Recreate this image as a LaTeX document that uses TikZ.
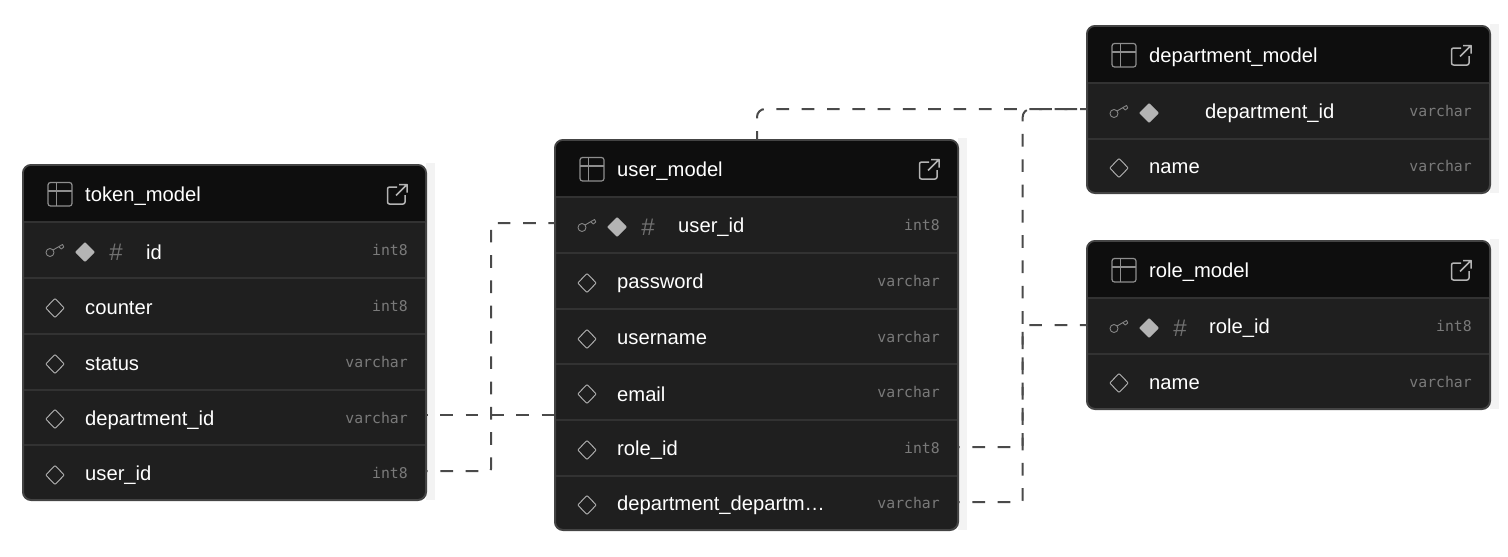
\documentclass[tikz,border=0pt]{standalone}
\usepackage{fontspec}
\setmainfont{Liberation Sans}
\newfontfamily\typefont{DejaVu Sans Mono}
\definecolor{bodyc}{HTML}{1F1F1F}
\definecolor{headc}{HTML}{0E0E0E}
\definecolor{edgec}{HTML}{444444}
\definecolor{sepc}{HTML}{323232}
\definecolor{iconc}{HTML}{B4B4B4}
\definecolor{tablec}{HTML}{8E8E8E}
\definecolor{dimc}{HTML}{858585}
\definecolor{typec}{HTML}{7A7A7A}
\definecolor{linkc}{HTML}{4A4A4A}
\definecolor{stripc}{HTML}{F3F3F3}
\tikzset{
  x=1pt,y=-1pt,
  cardbox/.style={draw=edgec,line width=2pt,fill=bodyc,rounded corners=8pt,minimum width=403pt,inner sep=0pt,outer sep=0pt,anchor=north west},
  cell/.style={minimum width=403pt,inner sep=0pt,outer sep=0pt,anchor=north west},
  title/.style={text=white,font=\fontsize{20.2}{20}\selectfont,anchor=west,inner sep=0pt},
  fieldname/.style={text=white,font=\fontsize{20.2}{20}\selectfont,anchor=west,inner sep=0pt},
  fieldtype/.style={text=typec,font=\fontsize{14.8}{15}\typefont,anchor=east,inner sep=0pt},
  hash/.style={text=dimc!85!black,font=\fontsize{24}{24}\selectfont,inner sep=0pt},
  icon/.style={draw=iconc,line width=0.9pt,line join=round},
  link/.style={draw=linkc,line width=2pt,dash pattern=on 12.7pt off 12.6pt},
}
% card: name, x, top, bottom, header bottom, title
\newcommand{\card}[6]{%
  \fill[stripc] (#2+403,#3-2) rectangle (#2+412,#4);
  \node[cardbox,minimum height=#4pt-#3pt] (#1) at (#2,#3) {};
  \fill[headc] (#2+1,#5) [rounded corners=7pt] -- (#2+1,#3+1) -- (#2+402,#3+1) [sharp corners] -- (#2+402,#5) -- cycle;
  \draw[draw=tablec,line width=1.2pt,rounded corners=2.5pt] (#2+25,#3+17.5) rectangle (#2+49,#3+41);
  \draw[draw=tablec,line width=1.2pt] (#2+25,#3+26) -- (#2+49,#3+26) (#2+33.5,#3+17.5) -- (#2+33.5,#3+41);
  \node[title] (#1-title) at (#2+62,#3+31) {#6};
  \draw[icon,rounded corners=2pt,line width=1.5pt] (#2+374,#3+22) -- (#2+364.5,#3+22) -- (#2+364.5,#3+39) -- (#2+382,#3+39) -- (#2+382,#3+30);
  \draw[icon,line width=1.5pt] (#2+373,#3+30.5) -- (#2+384,#3+19.5) (#2+376,#3+19.5) -- (#2+384,#3+19.5) -- (#2+384,#3+27.5);
}
% row: name, x, top, bottom, text, type, text offset
\newcommand{\fieldrow}[7]{%
  \draw[sepc,line width=2pt] (#2+1,#3) -- (#2+402,#3);
  \node[cell,minimum height=#4pt-#3pt] (#1) at (#2,#3) {};
  \node[fieldname] (#1-name) at (#2+#7,{(#3+#4)/2+2.3}) {#5};
  \node[fieldtype] (#1-type) at (#2+385,{(#3+#4)/2}) {#6};
}
\newcommand{\plainicon}[2]{%
  \draw[icon,rounded corners=0.8pt] (#1+32,#2+1.5) -- (#1+41.3,#2+1.5+9.5) -- (#1+32,#2+1.5+19) -- (#1+22.7,#2+1.5+9.5) -- cycle;
}
% key icons: x, centre y
\newcommand{\keyicon}[2]{%
  \draw[dimc,line width=0.9pt] (#1+27,#2+2) circle[radius=4pt];
  \draw[dimc,line width=0.9pt,line join=round] (#1+30,#2-0.5) -- (#1+39.5,#2-6) -- (#1+40.8,#2-3.5) -- (#1+38.3,#2-1.5) -- (#1+36,#2-3.5);
  \fill[iconc,rounded corners=0.8pt] (#1+62,#2-8.5) -- (#1+72,#2+1.5) -- (#1+62,#2+11.5) -- (#1+52,#2+1.5) -- cycle;
}
\begin{document}
\begin{tikzpicture}
\useasboundingbox (0,0) rectangle (1508,557);
% token_model
\card{token}{23}{165}{500}{222}{token\_model}
\fieldrow{tokenId}{23}{222}{278}{id}{int8}{123}
\fieldrow{tokenCounter}{23}{278}{334}{counter}{int8}{62}
\fieldrow{tokenStatus}{23}{334}{390}{status}{varchar}{62}
\fieldrow{tokenDept}{23}{390}{445}{department\_id}{varchar}{62}
\fieldrow{tokenUser}{23}{445}{500}{user\_id}{int8}{62}
\keyicon{23}{250.5}
\node[hash] (tokenHash) at (116,252) {\#};
\plainicon{23}{297} \plainicon{23}{353} \plainicon{23}{408} \plainicon{23}{464}
% user_model
\card{user}{555}{140}{530}{197}{user\_model}
\fieldrow{userId}{555}{197}{253}{user\_id}{int8}{123}
\fieldrow{userPass}{555}{253}{309}{password}{varchar}{62}
\fieldrow{userName}{555}{309}{364}{username}{varchar}{62}
\fieldrow{userEmail}{555}{364}{420}{email}{varchar}{62}
\fieldrow{userRole}{555}{420}{476}{role\_id}{int8}{62}
\fieldrow{userDept}{555}{476}{530}{department\_departm…}{varchar}{62}
\keyicon{555}{225.5}
\node[hash] (userHash) at (648,227) {\#};
\plainicon{555}{272} \plainicon{555}{328} \plainicon{555}{383} \plainicon{555}{439} \plainicon{555}{494}
% department_model
\card{dept}{1087}{26}{193}{83}{department\_model}
\fieldrow{deptId}{1087}{83}{139}{department\_id}{varchar}{118}
\fieldrow{deptName}{1087}{139}{193}{name}{varchar}{62}
\keyicon{1087}{111.5}
\plainicon{1087}{157}
% role_model
\card{role}{1087}{241}{409}{298}{role\_model}
\fieldrow{roleId}{1087}{298}{354}{role\_id}{int8}{122}
\fieldrow{roleName}{1087}{354}{409}{name}{varchar}{62}
\keyicon{1087}{326.5}
\node[hash] (roleHash) at (1180,328) {\#};
\plainicon{1087}{372}
% connectors
\coordinate (busTop) at (757,109);
\coordinate (busLeft) at (491,0);
\coordinate (busRight) at (1022.7,0);
\draw[link,dash phase=3.7pt,rounded corners=8pt] (user.north -| busTop) -- (busTop) -- (deptId.west |- busTop);
\draw[link,dash phase=11pt] ([yshift=3pt]tokenDept.east) -- ([yshift=3pt]tokenDept.east -| userRole.west);
\draw[link,dash phase=11pt,rounded corners=2pt] ([yshift=1.5pt]tokenUser.east) -- ([yshift=1.5pt]tokenUser.east -| busLeft) -- ([yshift=2pt]userId.west -| busLeft) -- ([yshift=2pt]userId.west);
\draw[link,dash phase=11pt,rounded corners=2pt] ([yshift=1pt]userRole.east) -- ([yshift=1pt]userRole.east -| busRight) -- ([yshift=1pt]roleId.west -| busRight) -- ([yshift=1pt]roleId.west);
\draw[link,dash phase=11pt,rounded corners=2pt] ([yshift=1pt]userDept.east) -- ([yshift=1pt]userDept.east -| busRight) [rounded corners=8pt] -- (busRight |- busTop) -- (deptId.west |- busTop);
\end{tikzpicture}
\end{document}
